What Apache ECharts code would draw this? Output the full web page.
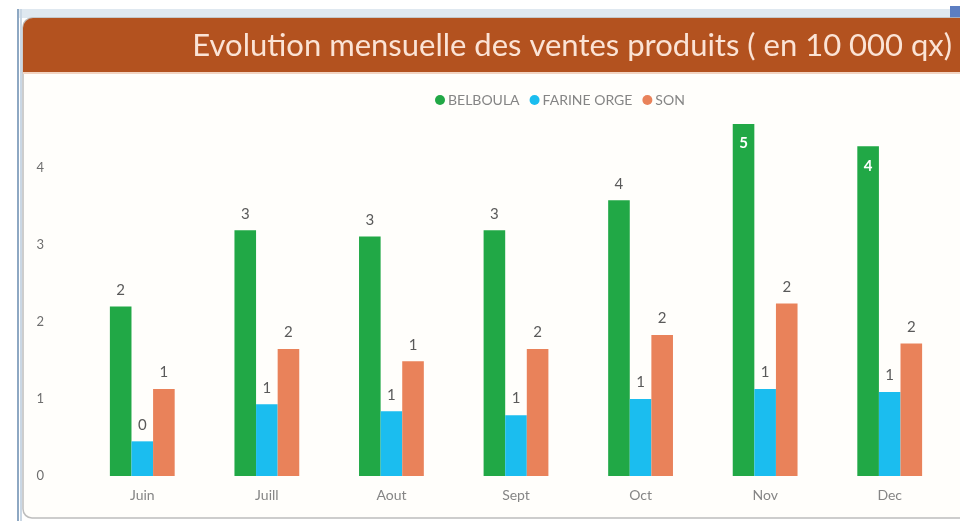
<!DOCTYPE html>
<html>
<head>
<meta charset="utf-8">
<script src="https://cdn.jsdelivr.net/npm/echarts@6/dist/echarts.min.js"></script>
<style>
html,body{margin:0;padding:0;background:#ffffff;}
#chart{width:960px;height:521px;}
</style>
</head>
<body>
<div id="chart"></div>
<script>
const categories = ['Juin', 'Juill', 'Aout', 'Sept', 'Oct', 'Nov', 'Dec'];
const belboula = [2.20, 3.19, 3.11, 3.19, 3.58, 4.57, 4.28];
const farineOrge = [0.45, 0.93, 0.84, 0.79, 1.00, 1.13, 1.09];
const son = [1.13, 1.65, 1.49, 1.65, 1.83, 2.24, 1.72];
const seriesNames = ['BELBOULA', 'FARINE ORGE', 'SON'];
const yTicks = [0, 1, 2, 3, 4];
const titleText = 'Evolution mensuelle des ventes produits ( en 10 000 qx)';

const colors = ['#21A846', '#1BBDEF', '#E9825A'];
const yMax = 4.7;
const font = 'Lato, "Open Sans", sans-serif';

function buildData(arr) {
  return arr.map(v => {
    if (v > yMax - 0.45) {
      return { value: v, label: { position: 'insideTop', color: '#ffffff', fontWeight: 'bold', distance: 12 } };
    }
    return v;
  });
}

const allSeries = [belboula, farineOrge, son].map((arr, i) => ({
  name: seriesNames[i],
  type: 'bar',
  data: buildData(arr),
  barWidth: 21.6,
  barGap: '0%',
  itemStyle: { color: colors[i] },
  label: {
    show: true,
    position: 'top',
    distance: 9,
    color: '#5A5A5A',
    fontSize: 15,
    fontFamily: font,
    formatter: p => String(Math.round(p.value))
  }
}));

const chart = echarts.init(document.getElementById('chart'), null, { renderer: 'canvas' });
chart.setOption({
  animation: false,
  backgroundColor: '#ffffff',
  color: colors,
  graphic: [
    { type: 'rect', z: -10, shape: { x: 17, y: 9, width: 943, height: 9 }, style: { fill: '#DFE8F0' } },
    { type: 'rect', z: -10, shape: { x: 950, y: 6, width: 10, height: 12 }, style: { fill: '#5C7EC2' } },
    { type: 'rect', z: -9, shape: { x: 23, y: 18, width: 950, height: 500, r: 9 }, style: { fill: '#FFFEFB', stroke: '#BDBDBD', lineWidth: 1.5 } },
    { type: 'rect', z: -8, shape: { x: 17, y: 9, width: 2, height: 512 }, style: { fill: '#8EA8C3' } },
    { type: 'rect', z: -8, shape: { x: 20, y: 9, width: 2, height: 512 }, style: { fill: '#CAD7E4' } },
    { type: 'rect', z: -7, shape: { x: 23, y: 18, width: 940, height: 54, r: [10, 0, 0, 0] }, style: { fill: '#B3521F' } },
    { type: 'rect', z: -7, shape: { x: 23, y: 72, width: 940, height: 2 }, style: { fill: '#F2D4C2' } }
  ],
  title: {
    text: titleText,
    right: 8,
    top: 30,
    padding: 0,
    textStyle: { color: '#FBE3D5', fontSize: 31, fontWeight: 'normal', fontFamily: font }
  },
  legend: {
    data: seriesNames,
    left: 430,
    top: 88,
    icon: 'circle',
    itemWidth: 10,
    itemHeight: 10,
    itemGap: 10,
    textStyle: { color: '#858585', fontSize: 14, fontFamily: font, padding: [0, 0, 0, -2] }
  },
  grid: { left: 80, right: 8, top: 114, bottom: 45 },
  xAxis: {
    type: 'category',
    data: categories,
    axisLine: { show: false },
    axisTick: { show: false },
    axisLabel: { color: '#858585', fontSize: 14, fontFamily: font, margin: 12 }
  },
  yAxis: {
    type: 'value',
    min: 0,
    max: yMax,
    interval: 1,
    splitLine: { show: false },
    axisLine: { show: false },
    axisTick: { show: false },
    axisLabel: {
      color: '#6E6E6E', fontSize: 13, fontFamily: font, margin: 36,
      formatter: v => (yTicks.indexOf(v) >= 0 ? String(v) : '')
    }
  },
  series: allSeries
});
</script>
</body>
</html>
